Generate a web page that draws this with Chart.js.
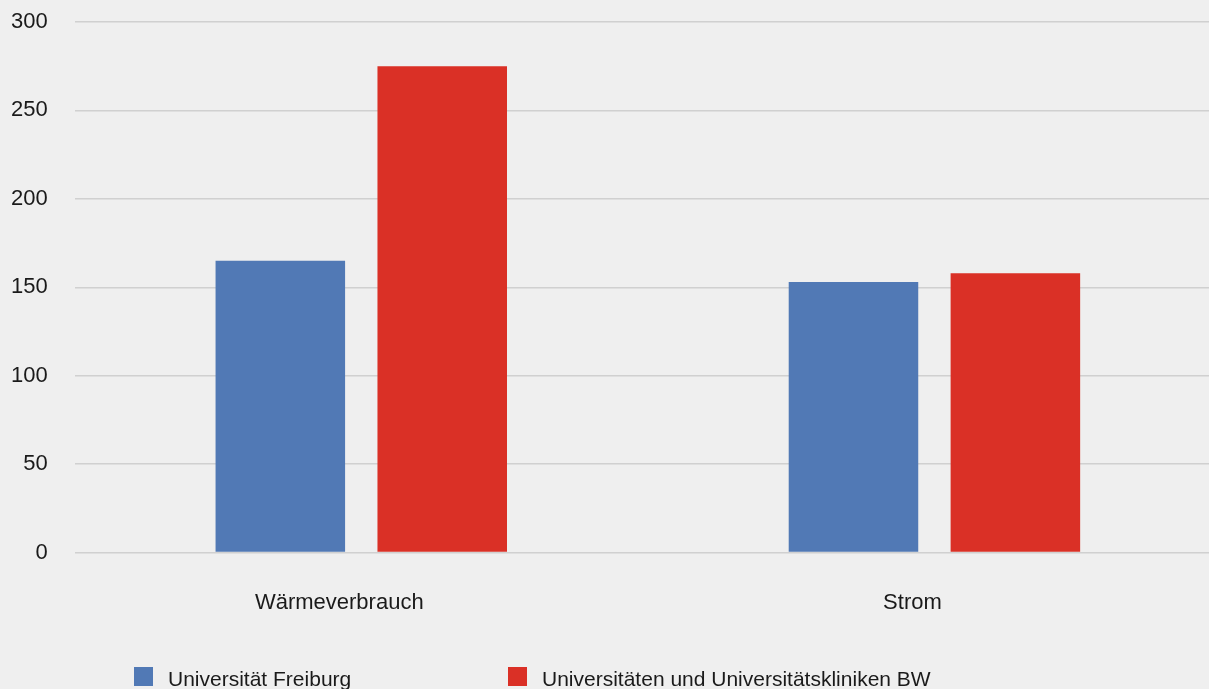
<!DOCTYPE html>
<html lang="de">
<head>
<meta charset="utf-8">
<title>Wärmeverbrauch und Strom</title>
<script src="https://cdn.jsdelivr.net/npm/chart.js@4/dist/chart.umd.min.js"></script>
<style>
  html, body { margin: 0; padding: 0; background: #efefef; overflow: hidden; width: 1209px; height: 689px; }
  /* the plot runs slightly past the right edge of the window */
  #wrap { position: relative; width: 1221px; height: 689px; }
</style>
</head>
<body>
<div id="wrap"><canvas id="chart"></canvas></div>
<script>
// Kategorien und Werte
const categories = ['Wärmeverbrauch', 'Strom'];
const seriesNames = ['Universität Freiburg', 'Universitäten und Universitätskliniken BW'];
const freiburgValues = [165, 153];
const bwValues = [275, 158];
const yTicks = [0, 50, 100, 150, 200, 250, 300];

const colors = ['#5179b5', '#da3026'];
const FONT = '"Liberation Sans", Arial, sans-serif';

// Legende unten, frei positioniert
const bottomLegend = {
  id: 'bottomLegend',
  afterDraw(chart) {
    const ctx = chart.ctx;
    const items = [
      { box: 134, text: 168 },
      { box: 508, text: 542 }
    ];
    ctx.save();
    ctx.font = '21px ' + FONT;
    ctx.textBaseline = 'alphabetic';
    ctx.textAlign = 'left';
    chart.data.datasets.forEach((ds, i) => {
      const it = items[i];
      ctx.fillStyle = ds.backgroundColor;
      ctx.fillRect(it.box, 667, 19, 19);
      ctx.fillStyle = '#1a1a1a';
      ctx.fillText(ds.label, it.text, 686);
    });
    ctx.restore();
  }
};

new Chart(document.getElementById('chart'), {
  type: 'bar',
  data: {
    labels: categories,
    datasets: [
      { label: seriesNames[0], data: freiburgValues, backgroundColor: colors[0] },
      { label: seriesNames[1], data: bwValues, backgroundColor: colors[1] }
    ]
  },
  options: {
    responsive: true,
    maintainAspectRatio: false,
    animation: false,
    layout: { padding: { top: 22, left: -16, right: 0, bottom: 36 } },
    categoryPercentage: 0.565,
    barPercentage: 0.8,
    plugins: {
      legend: { display: false },
      tooltip: { enabled: false }
    },
    scales: {
      x: {
        grid: { display: false, drawTicks: false },
        border: { display: false },
        ticks: {
          color: '#1a1a1a',
          font: { family: FONT, size: 22 },
          padding: 37,
          labelOffset: -22,
          maxRotation: 0
        }
      },
      y: {
        min: 0,
        max: 300,
        afterBuildTicks(scale) {
          scale.ticks = yTicks.map(v => ({ value: v }));
        },
        afterFit(scale) {
          // top/bottom space comes from the layout padding only
          scale.paddingTop = 0;
          scale.paddingBottom = 0;
        },
        grid: { color: '#d0d0d0', lineWidth: 1.5, drawTicks: false },
        border: { display: false },
        ticks: {
          color: '#1a1a1a',
          font: { family: FONT, size: 22 },
          padding: 27
        }
      }
    }
  },
  plugins: [bottomLegend]
});
</script>
</body>
</html>
